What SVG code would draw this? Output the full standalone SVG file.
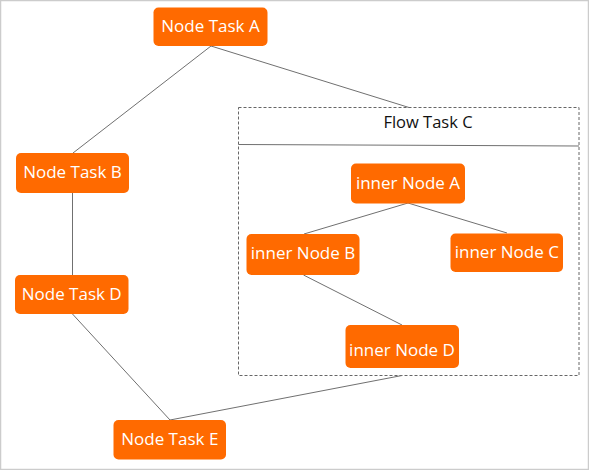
<svg xmlns="http://www.w3.org/2000/svg" width="589" height="470" viewBox="0 0 589 470">
<style>
.node rect{fill:#FF6A00;rx:5px;ry:5px}
.node text{fill:#ffffff;font-family:"Open Sans","Noto Sans","DejaVu Sans",sans-serif;font-size:17px;text-anchor:middle}
.edges line{stroke:#707070;stroke-width:1}
.title{fill:#111;font-family:"Open Sans","Noto Sans","DejaVu Sans",sans-serif;font-size:16.5px;text-anchor:middle}
</style>
<rect x="0" y="0" width="589" height="470" fill="#ffffff"/>
<rect x="0.5" y="0.5" width="588" height="469" fill="none" stroke="#cccccc" stroke-width="1.5"/>
<g id="flow-task-c">
<rect x="238.5" y="107.5" width="340.5" height="268" fill="none" stroke="#666" stroke-width="1" stroke-dasharray="3,2"/>
<line x1="238.5" y1="144.5" x2="579" y2="146" stroke="#707070" stroke-width="1"/>
<text class="title" x="428" y="127.5">Flow Task C</text>
</g>
<g class="edges" id="connectors">
<line x1="211" y1="46" x2="73" y2="153"/>
<line x1="211" y1="46" x2="409" y2="107.5"/>
<line x1="72.5" y1="193" x2="72.5" y2="275"/>
<line x1="72.5" y1="314" x2="170" y2="420"/>
<line x1="402" y1="375.5" x2="170" y2="420"/>
<line x1="408" y1="203" x2="304" y2="234"/>
<line x1="408" y1="203" x2="507" y2="233"/>
<line x1="303.5" y1="275" x2="402" y2="325"/>
</g>
<g class="node" id="node-a"><rect x="153.5" y="7.5" width="114" height="38.5"/><text x="210.5" y="32">Node Task A</text></g>
<g class="node" id="node-b"><rect x="16" y="153" width="113" height="40"/><text x="72.5" y="178">Node Task B</text></g>
<g class="node" id="node-d"><rect x="15" y="275" width="113.5" height="39"/><text x="71.7" y="300">Node Task D</text></g>
<g class="node" id="node-e"><rect x="113.5" y="420" width="112.5" height="39.5"/><text x="169.8" y="445">Node Task E</text></g>
<g class="node" id="inner-a"><rect x="351" y="163.5" width="114" height="40"/><text x="408" y="188.5">inner Node A</text></g>
<g class="node" id="inner-b"><rect x="246.5" y="234" width="113" height="41"/><text x="303" y="259">inner Node B</text></g>
<g class="node" id="inner-c"><rect x="450.5" y="233.5" width="112.5" height="38.5"/><text x="506.8" y="258">inner Node C</text></g>
<g class="node" id="inner-d"><rect x="345.5" y="325" width="113.5" height="43"/><text x="402" y="356">inner Node D</text></g>
</svg>
